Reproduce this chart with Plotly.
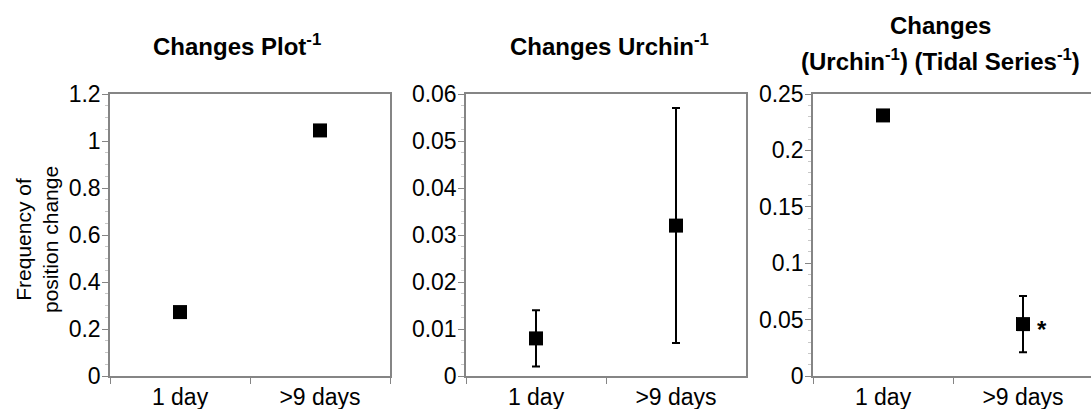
import plotly.graph_objects as go

# Categories and values for the three panels
categories = ["1 day", ">9 days"]

plot_values = [0.272, 1.045]

urchin_values = [0.008, 0.032]
urchin_errors = [0.006, 0.025]

tidal_values = [0.231, 0.046]
tidal_errors = [0.0, 0.025]

y_ticks_plot = [0, 0.2, 0.4, 0.6, 0.8, 1, 1.2]
y_ticks_urchin = [0, 0.01, 0.02, 0.03, 0.04, 0.05, 0.06]
y_ticks_tidal = [0, 0.05, 0.1, 0.15, 0.2, 0.25]

W, H = 1091, 409
FONT = "Liberation Sans, Arial, sans-serif"
AXIS_GREY = "#858585"
MINOR_GREY = "#c8c8c8"


def px_x(p):
    return p / W


def px_y(p):
    return 1 - p / H


y_dom = [px_y(376), px_y(94)]

fig = go.Figure()

marker = dict(symbol="square", size=14, color="black")
err_style = dict(type="data", color="black", thickness=2, width=4, visible=True)

fig.add_trace(go.Scatter(x=categories, y=plot_values, mode="markers",
                         marker=marker, xaxis="x", yaxis="y"))
fig.add_trace(go.Scatter(x=categories, y=urchin_values, mode="markers",
                         marker=marker, xaxis="x2", yaxis="y2",
                         error_y=dict(array=urchin_errors, **err_style)))
fig.add_trace(go.Scatter(x=categories, y=tidal_values, mode="markers",
                         marker=marker, xaxis="x3", yaxis="y3",
                         error_y=dict(array=tidal_errors, **err_style)))


def xaxis(domain, rng, anchor):
    return dict(domain=domain, anchor=anchor, type="category",
                categoryorder="array", categoryarray=categories,
                range=rng, tickson="boundaries", ticks="outside",
                ticklen=6, tickcolor=AXIS_GREY, tickwidth=1,
                showline=True, linecolor=AXIS_GREY, linewidth=1.5,
                mirror=True, showgrid=False, zeroline=False,
                automargin=False,
                tickfont=dict(family=FONT, size=23, color="black"))


def yaxis(rng, tickvals, minor_step, anchor, mirror=True):
    return dict(domain=y_dom, anchor=anchor, range=rng,
                tickmode="array", tickvals=tickvals,
                ticks="outside", ticklen=6, tickcolor=AXIS_GREY, tickwidth=1,
                ticklabelstandoff=-3,
                minor=dict(dtick=minor_step, ticks="outside", ticklen=3,
                           tickcolor=MINOR_GREY, tickwidth=1, showgrid=False),
                showline=True, linecolor=AXIS_GREY, linewidth=1.5,
                mirror=mirror, showgrid=False, zeroline=False,
                automargin=False,
                tickfont=dict(family=FONT, size=23, color="black"))


fig.update_layout(
    width=W, height=H,
    autosize=False,
    margin=dict(l=0, r=0, t=0, b=0, pad=0, autoexpand=False),
    paper_bgcolor="white", plot_bgcolor="white",
    showlegend=False,
    xaxis=xaxis([px_x(110), px_x(390)], [-0.5, 1.5], "y"),
    xaxis2=xaxis([px_x(466), px_x(746)], [-0.5, 1.5], "y2"),
    xaxis3=xaxis([px_x(813), 1.0], [-0.5, 1.5 - 2 / 140], "y3"),
    yaxis=yaxis([0, 1.2], y_ticks_plot, 0.05, "x"),
    yaxis2=yaxis([0, 0.06], y_ticks_urchin, 0.0025, "x2"),
    yaxis3=yaxis([0, 0.25], y_ticks_tidal, 0.01, "x3", mirror=False),
)

title_font = dict(family=FONT, size=24, color="black")
titles = [
    ("<b>Changes Plot<sup>-1</sup></b>", 237, 45),
    ("<b>Changes Urchin<sup>-1</sup></b>", 609, 45),
    ("<b>Changes</b>", 940, 26),
    ("<b>(Urchin<sup>-1</sup>) (Tidal Series<sup>-1</sup>)</b>", 940, 60),
]
for text, xp, yp in titles:
    fig.add_annotation(text=text, xref="paper", yref="paper",
                       x=px_x(xp), y=px_y(yp), xanchor="center",
                       yanchor="middle", showarrow=False, font=title_font)

# y-axis title of the first panel
fig.add_annotation(text="Frequency of<br>position change", xref="paper",
                   yref="paper", x=px_x(37), y=px_y(240), textangle=-90,
                   xanchor="center", yanchor="middle", showarrow=False,
                   font=dict(family=FONT, size=21, color="black"))

# significance marker beside the >9 days point of the third panel
fig.add_annotation(text="<b>*</b>", xref="x3", yref="y3", x=categories[1],
                   y=tidal_values[1], xanchor="left", yanchor="middle",
                   xshift=12, yshift=-5, showarrow=False,
                   font=dict(family=FONT, size=24, color="black"))

fig.write_html("out.html")
